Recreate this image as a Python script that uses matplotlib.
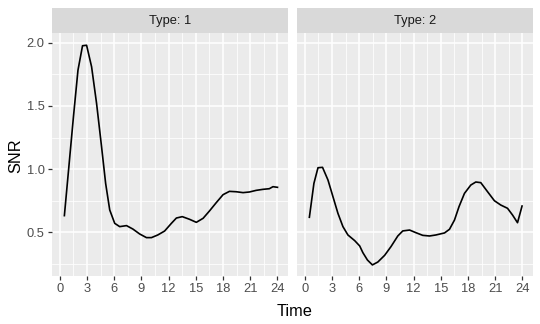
import matplotlib
matplotlib.use("Agg")
from matplotlib import pyplot as plt
from matplotlib.ticker import MultipleLocator

# values
time_1 = [0.5, 1.5, 2.0, 2.5, 2.95, 3.5, 4.05, 4.6, 5.05, 5.5, 6.05, 6.6,
          7.35, 8.05, 8.8, 9.55, 10.1, 10.8, 11.55, 12.3, 12.85, 13.5, 14.3,
          15.05, 15.8, 16.5, 17.25, 18.0, 18.7, 19.45, 20.2, 20.9, 21.65,
          22.4, 23.1, 23.5, 24.0]
snr_1 = [0.632, 1.414, 1.783, 1.976, 1.98, 1.81, 1.52, 1.177, 0.887, 0.677,
         0.571, 0.545, 0.553, 0.526, 0.487, 0.458, 0.458, 0.479, 0.51, 0.571,
         0.613, 0.624, 0.603, 0.579, 0.611, 0.669, 0.735, 0.798, 0.824,
         0.821, 0.814, 0.819, 0.832, 0.84, 0.845, 0.861, 0.856]

time_2 = [0.5, 1.0, 1.45, 1.95, 2.55, 3.1, 3.65, 4.2, 4.75, 5.5, 6.05, 6.4,
          6.9, 7.45, 8.05, 8.8, 9.5, 10.25, 10.8, 11.55, 12.25, 13.0, 13.75,
          14.45, 15.4, 15.95, 16.5, 17.0, 17.6, 18.3, 18.85, 19.4, 20.15,
          20.9, 21.6, 22.35, 22.9, 23.45, 23.95]
snr_2 = [0.619, 0.887, 1.011, 1.014, 0.914, 0.782, 0.65, 0.545, 0.479, 0.434,
         0.392, 0.339, 0.281, 0.242, 0.265, 0.318, 0.387, 0.471, 0.511,
         0.518, 0.497, 0.476, 0.471, 0.479, 0.495, 0.524, 0.597, 0.703,
         0.808, 0.874, 0.898, 0.893, 0.821, 0.75, 0.716, 0.69, 0.637, 0.576,
         0.708]

panels = [("Type: 1", time_1, snr_1), ("Type: 2", time_2, snr_2)]
x_ticks = [0, 3, 6, 9, 12, 15, 18, 21, 24]
y_ticks = [0.5, 1.0, 1.5, 2.0]

plt.rcParams["font.family"] = ["Liberation Sans", "DejaVu Sans"]

# SET FIGURE
fig = plt.figure(figsize=(5.4, 3.24), dpi=100)
lefts = [0.0957, 0.5494]
bottom, height, width = 0.148, 0.749, 0.4375
strip_h = 0.0772

for i, (label, t, v) in enumerate(panels):
    ax = fig.add_axes([lefts[i], bottom, width, height])
    ax.set_facecolor("#EBEBEB")
    for s in ax.spines.values():
        s.set_visible(False)

    ax.set_xlim(-0.9, 25.15)
    ax.set_ylim(0.154, 2.074)
    ax.set_xticks(x_ticks)
    ax.set_yticks(y_ticks)
    ax.xaxis.set_minor_locator(MultipleLocator(1.5))
    ax.yaxis.set_minor_locator(MultipleLocator(0.25))

    ax.grid(which="major", color="white", linewidth=1.1)
    ax.grid(which="minor", color="white", linewidth=0.55)
    ax.set_axisbelow(True)

    ax.tick_params(which="major", length=3, width=0.9, color="#333333",
                   labelsize=9.3, labelcolor="#4D4D4D", pad=2)
    ax.tick_params(which="minor", length=0)

    if i == 0:
        ax.set_yticklabels(["0.5", "1.0", "1.5", "2.0"])
    else:
        ax.tick_params(axis="y", which="major", length=0, labelleft=False)

    ax.plot(t, v, color="black", linewidth=1.2, solid_joinstyle="round")

    # STRIP
    sx = fig.add_axes([lefts[i], bottom + height, width, strip_h])
    sx.set_facecolor("#D9D9D9")
    sx.set_xticks([])
    sx.set_yticks([])
    for s in sx.spines.values():
        s.set_visible(False)
    sx.text(0.5, 0.5, label, ha="center", va="center", fontsize=9.3,
            color="#1A1A1A", transform=sx.transAxes)

# TITLES
fig.text(0.546, 0.015, "Time", ha="center", va="bottom", fontsize=11.8)
fig.text(0.016, 0.52, "SNR", ha="left", va="center", rotation=90,
         fontsize=11.8)

fig.savefig("out.png", dpi=100)
